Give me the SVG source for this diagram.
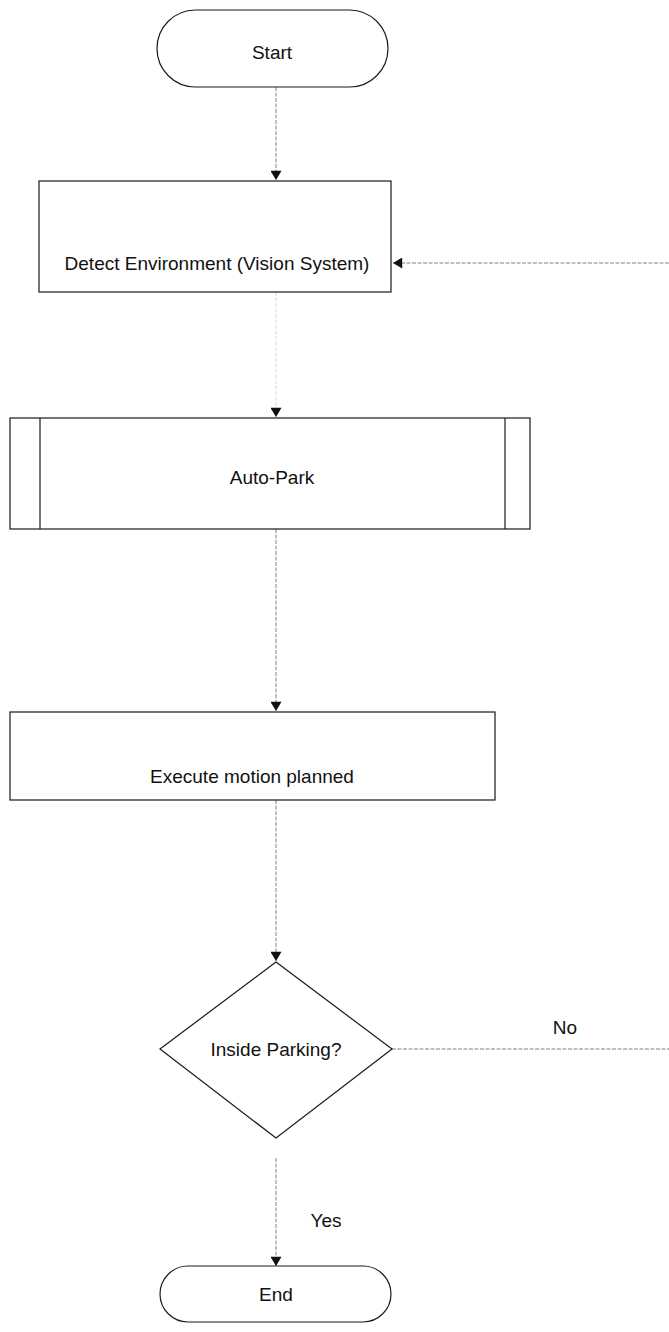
<svg xmlns="http://www.w3.org/2000/svg" width="669" height="1332" viewBox="0 0 669 1332">
  <style>
    .shape { fill: #ffffff; stroke: #1a1a1a; stroke-width: 1.2; }
    .label { font-family: "Liberation Sans", Arial, sans-serif; font-size: 19px; fill: #111111; text-anchor: middle; }
    .flow { fill: none; stroke: #808080; stroke-width: 1; stroke-dasharray: 4 1.5; }
  </style>
  <defs>
    <marker id="arrow" viewBox="0 0 10 12" refX="10" refY="6" markerWidth="12" markerHeight="11" markerUnits="userSpaceOnUse" orient="auto">
      <path d="M0,0 L10,6 L0,12 Z" fill="#111111"/>
    </marker>
  </defs>
  <rect width="669" height="1332" fill="#ffffff"/>

  <!-- connectors -->
  <g id="connectors">
    <line class="flow" x1="276" y1="87" x2="276" y2="180" marker-end="url(#arrow)"/>
    <line class="flow" x1="669" y1="263" x2="393" y2="263" marker-end="url(#arrow)"/>
    <line class="flow" x1="276" y1="292" x2="276" y2="417" marker-end="url(#arrow)" stroke-opacity="0.3"/>
    <line class="flow" x1="276" y1="529" x2="276" y2="711" marker-end="url(#arrow)"/>
    <line class="flow" x1="276" y1="800" x2="276" y2="961" marker-end="url(#arrow)"/>
    <line class="flow" x1="392" y1="1049" x2="669" y2="1049"/>
    <line class="flow" x1="276" y1="1158" x2="276" y2="1266" marker-end="url(#arrow)"/>
    <text class="label" x="565" y="1034">No</text>
    <text class="label" x="326" y="1227">Yes</text>
  </g>

  <!-- nodes -->
  <g id="start">
    <rect class="shape" x="157" y="10" width="231" height="77" rx="38.5" ry="38.5"/>
    <text class="label" x="272" y="59">Start</text>
  </g>

  <g id="detect">
    <rect class="shape" x="39" y="181" width="352" height="111"/>
    <text class="label" x="217" y="270">Detect Environment (Vision System)</text>
  </g>

  <g id="autopark">
    <rect class="shape" x="10" y="418" width="520" height="111"/>
    <line class="shape" x1="40" y1="418" x2="40" y2="529"/>
    <line class="shape" x1="505" y1="418" x2="505" y2="529"/>
    <text class="label" x="272" y="484">Auto-Park</text>
  </g>

  <g id="execute">
    <rect class="shape" x="10" y="712" width="485" height="88"/>
    <text class="label" x="252" y="783">Execute motion planned</text>
  </g>

  <g id="inside-parking">
    <polygon class="shape" points="276,962 392,1049 276,1138 160,1049"/>
    <text class="label" x="276" y="1056">Inside Parking?</text>
  </g>

  <g id="end">
    <rect class="shape" x="160" y="1266" width="231" height="56" rx="28" ry="28"/>
    <text class="label" x="276" y="1301">End</text>
  </g>
</svg>
